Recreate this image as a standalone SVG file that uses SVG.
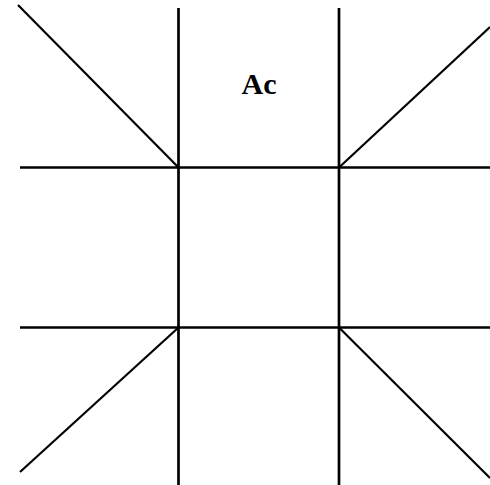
<svg xmlns="http://www.w3.org/2000/svg" width="490" height="485" viewBox="0 0 490 485">
<style>
.grid{stroke:#000;stroke-width:2.7;fill:none}
.diag{stroke:#000;stroke-width:2.2;fill:none}
.lbl{font-family:"Liberation Serif","Times New Roman",serif;font-weight:bold;font-size:30px;fill:#000}
</style>
<rect width="490" height="485" fill="#fff"/>
<g id="connectors">
<line class="grid" x1="178.5" y1="8" x2="178.5" y2="485"/>
<line class="grid" x1="339" y1="8" x2="339" y2="485"/>
<line class="grid" x1="20" y1="167.5" x2="490" y2="167.5"/>
<line class="grid" x1="20" y1="327.5" x2="490" y2="327.5"/>
<line class="diag" x1="18" y1="5" x2="178.5" y2="167.5"/>
<line class="diag" x1="339" y1="167.5" x2="490" y2="27"/>
<line class="diag" x1="178.5" y1="327.5" x2="20" y2="472"/>
<line class="diag" x1="339" y1="327.5" x2="490" y2="478"/>
</g>
<g id="label-ac">
<text class="lbl" x="259" y="94" text-anchor="middle">Ac</text>
</g>
</svg>
